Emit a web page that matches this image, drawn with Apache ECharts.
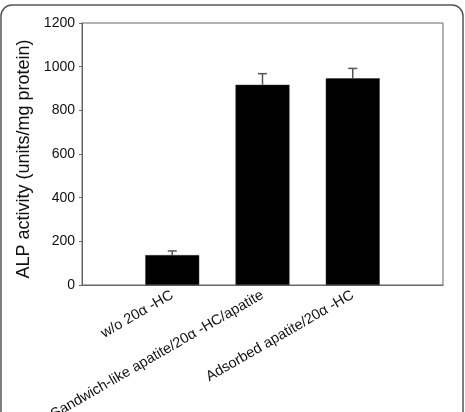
<!DOCTYPE html>
<html>
<head>
<meta charset="utf-8">
<script src="https://cdn.jsdelivr.net/npm/echarts@6/dist/echarts.min.js"></script>
<style>
html, body { margin: 0; padding: 0; background: #fff; }
#chart { width: 465px; height: 412px; }
</style>
</head>
<body>
<div id="chart"></div>
<script>
// padded with empty slots so the bars sit on ticks 1..3 of a 0..4 axis
var categories = ['', 'w/o 20α -HC', 'Sandwich-like apatite/20α -HC/apatite', 'Adsorbed apatite/20α -HC', ''];
var alpValues = ['-', 137, 917, 947, '-'];
var alpErrors = [0, 19, 51, 45, 0];
var yTicks = [0, 200, 400, 600, 800, 1000, 1200];

function initChart() {
	var dom = document.getElementById('chart');
	var myChart = echarts.init(dom);
	var fontName = 'Liberation Sans, Arial, sans-serif';

	var errData = [];
	for (var i = 0; i < alpValues.length; i++) {
		if (alpValues[i] !== '-') {
			errData.push([i, alpValues[i], alpValues[i] + alpErrors[i]]);
		}
	}

	var option = {
		animation: false,
		graphic: [{
			type: 'rect',
			shape: { x: 1, y: 5, width: 462, height: 430, r: 11 },
			style: { fill: 'none', stroke: '#555', lineWidth: 1.5 },
			silent: true
		}],
		grid: {
			left: 82,
			right: 22,
			top: 23,
			bottom: 127,
			outerBoundsMode: 'none',
			containLabel: false,
			show: true,
			borderColor: '#666',
			borderWidth: 1
		},
		xAxis: {
			type: 'category',
			data: categories,
			boundaryGap: false,
			axisLine: { lineStyle: { color: '#666', width: 1 } },
			axisTick: { show: false },
			axisLabel: {
				interval: 0,
				rotate: 30,
				margin: 9,
				color: '#111',
				fontSize: 14.5,
				fontFamily: fontName
			},
			splitLine: { show: false }
		},
		yAxis: {
			type: 'value',
			min: yTicks[0],
			max: yTicks[yTicks.length - 1],
			interval: 200,
			name: 'ALP activity (units/mg protein)',
			nameLocation: 'middle',
			nameGap: 49,
			nameTextStyle: { color: '#111', fontSize: 18, fontFamily: fontName, padding: [0, 10, 0, 0] },
			axisLine: { show: true, lineStyle: { color: '#666', width: 1 } },
			axisTick: { show: true, length: 3, lineStyle: { color: '#666' } },
			axisLabel: {
				color: '#111',
				fontSize: 14,
				fontFamily: fontName,
				margin: 7,
				formatter: function(v) { return String(v); }
			},
			splitLine: { show: false }
		},
		series: [{
				name: 'ALP',
				type: 'bar',
				data: alpValues,
				barWidth: 54,
				itemStyle: { color: '#000', borderColor: '#333', borderWidth: 0.5 },
				z: 2
			},
			{
				name: 'error',
				type: 'custom',
				data: errData,
				z: 3,
				renderItem: function(params, api) {
					var base = api.coord([api.value(0), api.value(1)]);
					var top = api.coord([api.value(0), api.value(2)]);
					var half = 4.5;
					return {
						type: 'group',
						children: [{
								type: 'line',
								shape: { x1: base[0], y1: base[1], x2: top[0], y2: top[1] },
								style: { stroke: '#555', lineWidth: 1.5 }
							},
							{
								type: 'line',
								shape: { x1: top[0] - half, y1: top[1], x2: top[0] + half, y2: top[1] },
								style: { stroke: '#555', lineWidth: 1.5 }
							}
						]
					};
				}
			}
		]
	};

	myChart.setOption(option, true);
}

onload = function() {
	initChart();
}
</script>
</body>
</html>
